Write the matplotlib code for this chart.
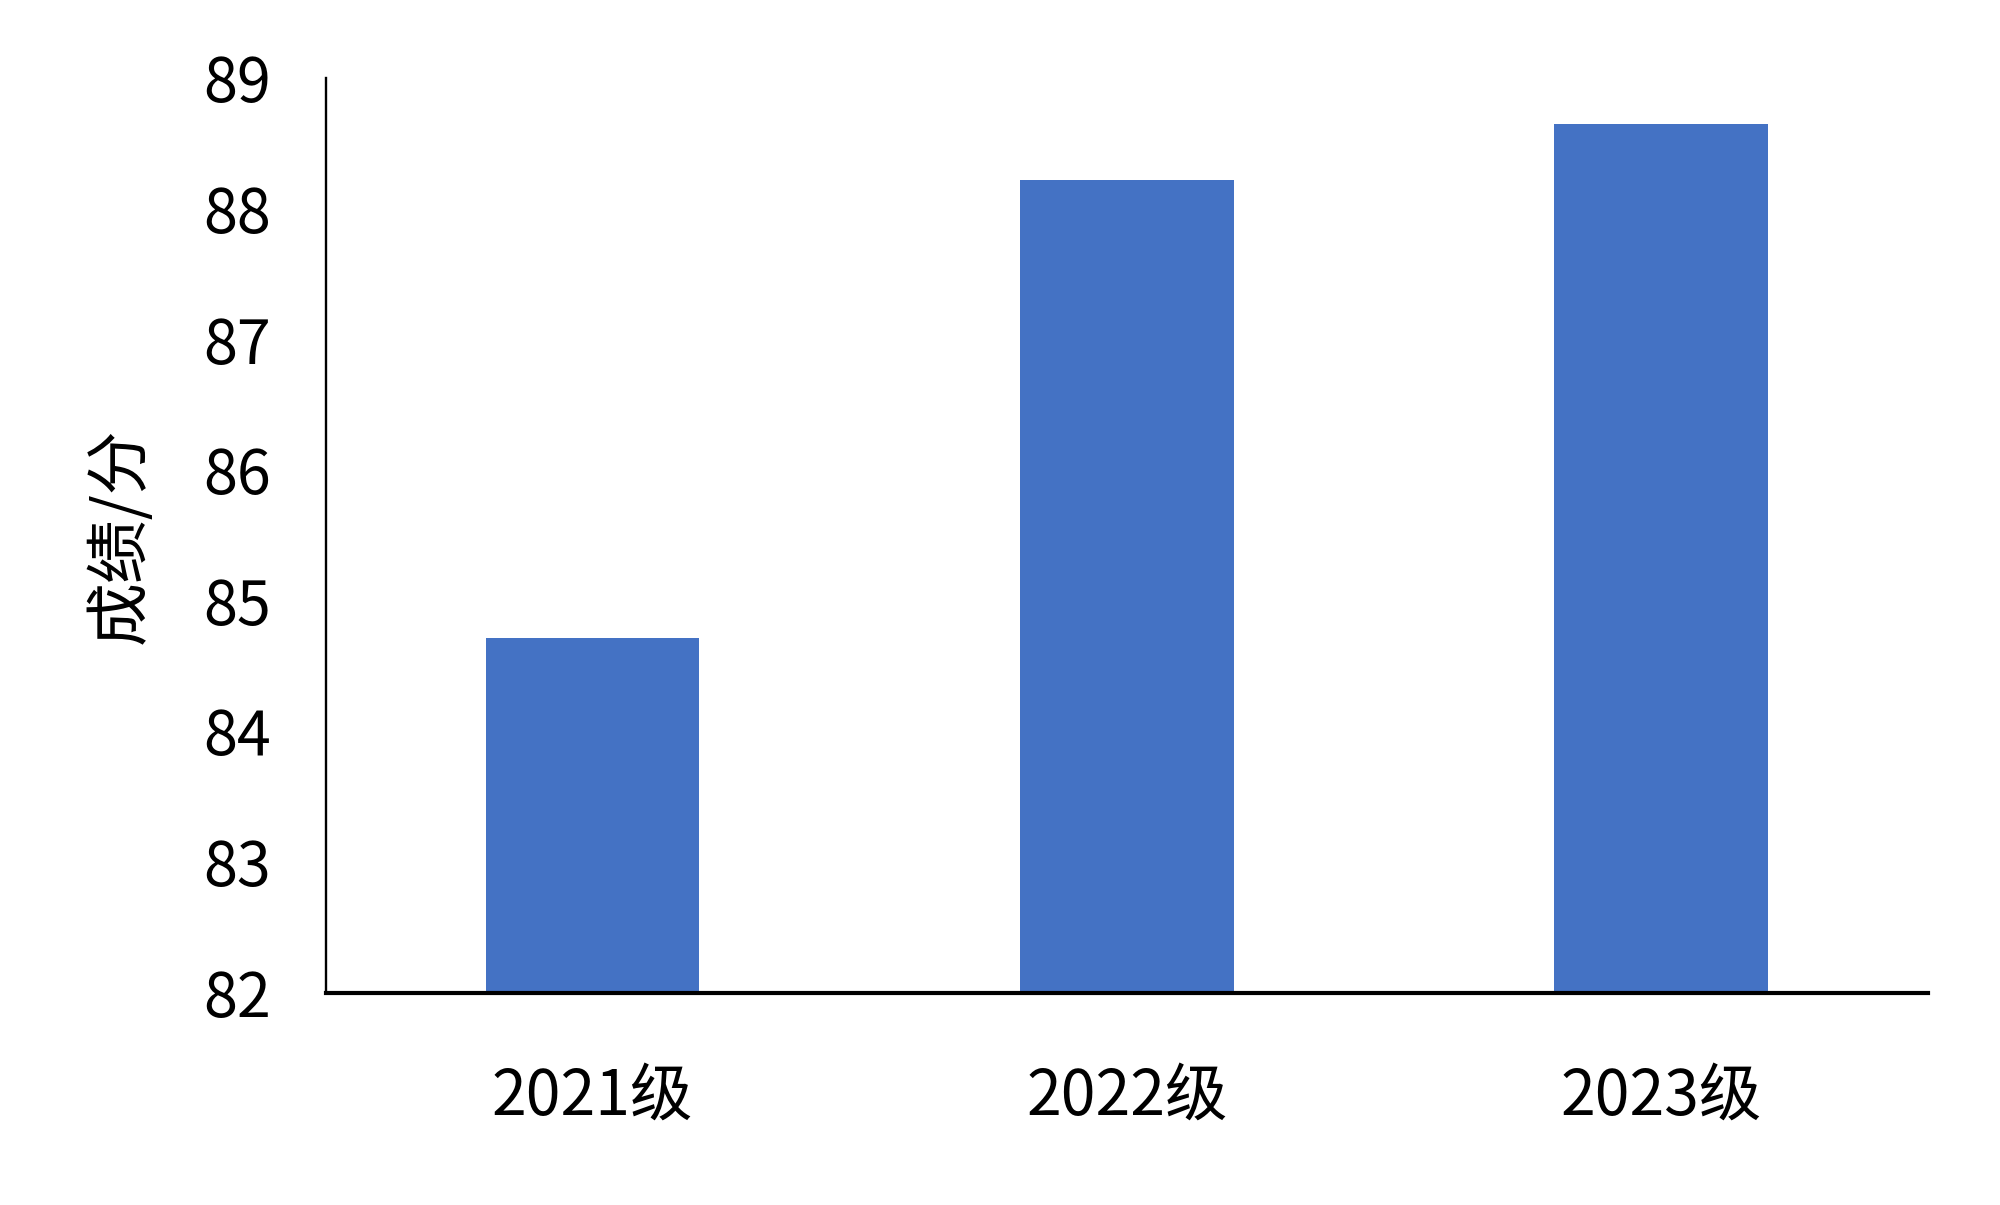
import matplotlib
matplotlib.use("Agg")
import matplotlib.pyplot as plt

plt.rcParams['font.family'] = ['Noto Sans CJK SC', 'DejaVu Sans']

categories = ["2021级", "2022级", "2023级"]
scores = [84.71, 88.22, 88.65]
yticks = [82, 83, 84, 85, 86, 87, 88, 89]
ylabel = "成绩/分"

fig = plt.figure(figsize=(20, 12.05), dpi=100)
ax = fig.add_axes([0.1628, 0.1763, 0.8012, 0.759])

x = range(len(categories))
ax.bar(x, scores, width=0.4, color="#4472C4", zorder=2)
ax.set_xlim(-0.5, len(categories) - 0.5)
ax.set_ylim(yticks[0], yticks[-1])
ax.set_yticks(yticks)
ax.set_xticks(list(x))
ax.set_xticklabels(categories)

ax.tick_params(axis='y', length=0, pad=39, labelsize=44)
ax.tick_params(axis='x', length=0, pad=52, labelsize=45)

for s in ['top', 'right']:
    ax.spines[s].set_visible(False)
ax.spines['left'].set_linewidth(1.7)
ax.spines['bottom'].set_linewidth(3.0)
ax.spines['left'].set_color('black')
ax.spines['bottom'].set_color('black')

ax.set_ylabel(ylabel, fontsize=46, labelpad=36)

fig.savefig("out.png", dpi=100, facecolor="white")
